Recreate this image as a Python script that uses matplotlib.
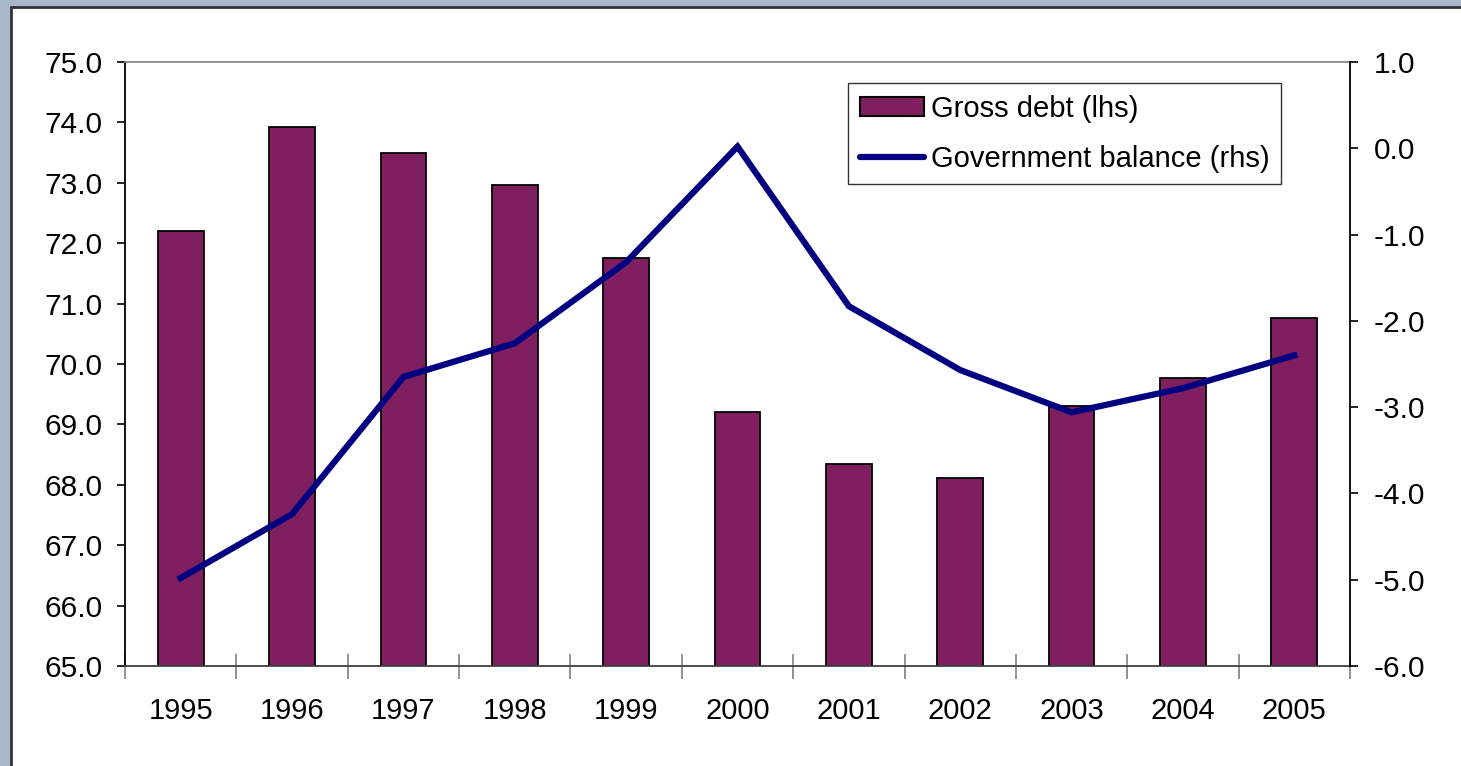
import matplotlib.pyplot as plt
import numpy as np
from matplotlib.patches import Rectangle
from matplotlib.lines import Line2D

plt.rcParams['font.family'] = ['Liberation Sans', 'DejaVu Sans']

# data
years = ['1995', '1996', '1997', '1998', '1999', '2000', '2001', '2002', '2003', '2004', '2005']
gross_debt = [72.2, 73.92, 73.49, 72.96, 71.75, 69.2, 68.34, 68.11, 69.3, 69.77, 70.76]
gov_balance = [-4.98, -4.24, -2.65, -2.26, -1.32, 0.02, -1.83, -2.57, -3.06, -2.78, -2.4]

bar_color = '#7f1f5f'
line_color = '#000080'

fig = plt.figure(figsize=(14.61, 7.66), dpi=100)
fig.patch.set_facecolor('#a7b8cb')
# white chart panel with dark border (cropped slide look)
W, H = 1461, 766
fig.patches.append(Rectangle((11 / W, -0.01), 1.0, 1 - 7 / H + 0.01, transform=fig.transFigure,
                             facecolor='white', edgecolor='#333333', linewidth=2.0, zorder=-5))

ax = fig.add_axes([125 / W, 100 / H, 1225 / W, 604 / H])
ax.set_facecolor('none')
x = np.arange(len(years))
ax.bar(x, gross_debt, width=0.41, color=bar_color, edgecolor='black', linewidth=1.3, zorder=2)
ax.set_xlim(-0.5, len(years) - 0.5)
ax.set_ylim(65, 75)
ax.set_yticks(np.arange(65, 75.1, 1.0))
ax.set_yticklabels(['%.1f' % v for v in np.arange(65, 75.1, 1.0)])
ax.tick_params(axis='y', direction='out', length=6, width=1.2, color='black', labelsize=21.5, pad=10)

# year labels at centres, boundary ticks as minor ticks
ax.set_xticks(x)
ax.set_xticklabels(years)
ax.set_xticks(np.arange(-0.5, len(years), 1.0), minor=True)
ax.tick_params(axis='x', which='major', length=0, labelsize=21, pad=22)
ax.tick_params(axis='x', which='minor', direction='inout', length=18, width=1.2, color='#808080')

ax.spines['left'].set_color('black')
ax.spines['left'].set_linewidth(1.3)
ax.spines['top'].set_color('#8a8a8a')
ax.spines['top'].set_linewidth(1.3)
ax.spines['bottom'].set_color('#404040')
ax.spines['bottom'].set_linewidth(1.3)
ax.spines['right'].set_visible(False)

ax2 = ax.twinx()
ax2.plot(x, gov_balance, color=line_color, linewidth=4.5, solid_joinstyle='miter', zorder=3)
ax2.set_ylim(-6, 1)
ax2.set_yticks(np.arange(-6, 1.1, 1.0))
ax2.set_yticklabels(['%.1f' % v for v in np.arange(-6, 1.1, 1.0)])
ax2.tick_params(axis='y', direction='out', length=6, width=1.2, color='black', labelsize=21.5, pad=11)
ax2.spines['right'].set_color('black')
ax2.spines['right'].set_linewidth(1.3)
for s in ['left', 'top', 'bottom']:
    ax2.spines[s].set_visible(False)

handles = [Rectangle((0, 0), 1, 1, facecolor=bar_color, edgecolor='black', linewidth=1.5),
           Line2D([0], [0], color=line_color, linewidth=4.5, solid_capstyle='round')]
leg = ax2.legend(handles, ['Gross debt (lhs)', 'Government balance (rhs)'],
                 loc='upper left', bbox_to_anchor=(848 / W, 1 - 83 / H), bbox_transform=fig.transFigure,
                 fontsize=21, frameon=True, fancybox=False, handlelength=2.2, handleheight=0.6,
                 handletextpad=0.25, borderpad=0.4, labelspacing=0.75, borderaxespad=0)
leg.get_frame().set_edgecolor('black')
leg.get_frame().set_linewidth(1.0)

fig.savefig('out.png', dpi=100, facecolor=fig.get_facecolor())
